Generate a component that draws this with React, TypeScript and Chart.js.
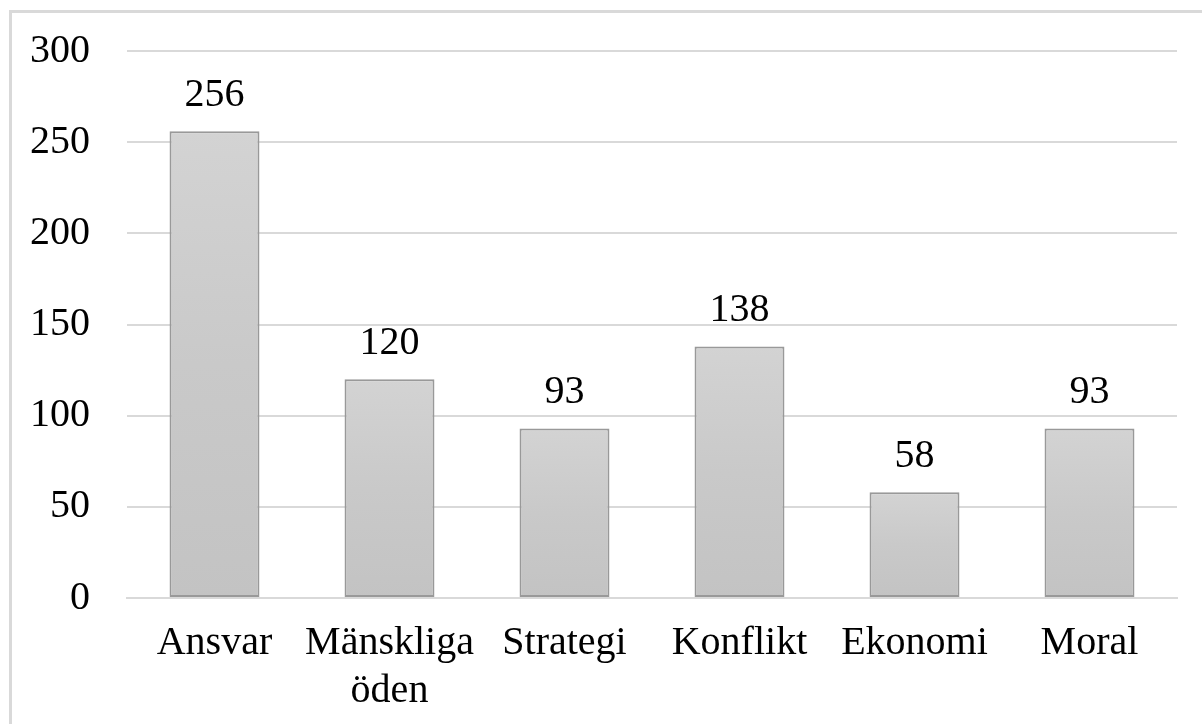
import React, { useEffect, useRef } from "react";
import { Chart, registerables } from "chart.js";

Chart.register(...registerables);

const categories: (string | string[])[] = ["Ansvar", ["Mänskliga", "öden"], "Strategi", "Konflikt", "Ekonomi", "Moral"];
const values: number[] = [256, 120, 93, 138, 58, 93];
const yTicks: number[] = [0, 50, 100, 150, 200, 250, 300];

const FONT = "'Liberation Serif', 'Times New Roman', serif";

const valueLabels = {
  id: "valueLabels",
  afterDatasetsDraw(chart: any) {
    const { ctx } = chart;
    const meta = chart.getDatasetMeta(0);
    ctx.save();
    ctx.font = `40px ${FONT}`;
    ctx.fillStyle = "#000";
    ctx.textAlign = "center";
    ctx.textBaseline = "alphabetic";
    meta.data.forEach((bar: any, i: number) => {
      ctx.fillText(String(values[i]), bar.x, bar.y - 25);
    });
    ctx.restore();
  },
};

export default function App() {
  const ref = useRef<HTMLCanvasElement>(null);
  useEffect(() => {
    const chart = new Chart(ref.current!, {
      type: "bar",
      data: {
        labels: categories,
        datasets: [
          {
            data: values,
            backgroundColor: (c: any) => {
              const chart = c.chart;
              const ys = chart.scales?.y;
              if (!ys || !chart.chartArea || c.raw === undefined) return "#c8c8c8";
              const top = ys.getPixelForValue(c.raw);
              const bottom = ys.getPixelForValue(0);
              const g = chart.ctx.createLinearGradient(0, top, 0, bottom);
              g.addColorStop(0, "#d3d3d3");
              g.addColorStop(0.5, "#c9c9c9");
              g.addColorStop(1, "#c3c3c3");
              return g;
            },
            borderColor: "#999999",
            borderWidth: 2,
            borderSkipped: false,
            barPercentage: 0.514,
            categoryPercentage: 1,
          },
        ],
      },
      options: {
        animation: false,
        responsive: false,
        maintainAspectRatio: false,
        layout: { padding: { top: 51, right: 25, left: 0, bottom: 0 } },
        plugins: { legend: { display: false }, tooltip: { enabled: false } },
        scales: {
          x: {
            grid: { display: false, drawTicks: false },
            border: { display: true, color: "#d9d9d9", width: 2 },
            ticks: {
              color: "#000",
              font: { family: FONT, size: 40, lineHeight: 1.2 },
              padding: 21,
              maxRotation: 0,
              autoSkip: false,
            },
            afterFit: (s: any) => {
              s.height = 126;
              s.paddingLeft = 0;
              s.paddingRight = 0;
            },
          },
          y: {
            min: 0,
            max: 300,
            afterBuildTicks: (s: any) => {
              s.ticks = yTicks.map((v) => ({ value: v }));
            },
            grid: { color: "#d9d9d9", lineWidth: 2, drawTicks: false },
            border: { display: false },
            ticks: {
              color: "#000",
              font: { family: FONT, size: 40 },
              padding: 37,
            },
            afterFit: (s: any) => {
              s.width = 127;
              s.paddingTop = 0;
              s.paddingBottom = 0;
            },
          },
        },
      },
      plugins: [valueLabels],
    });
    return () => chart.destroy();
  }, []);

  return (
    <div style={{ position: "absolute", left: 0, top: 0, width: 1202, height: 724, background: "#fff", overflow: "hidden" }}>
      <div
        style={{
          position: "absolute",
          left: 9,
          top: 10,
          width: 1220,
          height: 740,
          border: "3px solid #d9d9d9",
          boxSizing: "border-box",
        }}
      />
      <canvas ref={ref} width={1202} height={724} style={{ position: "absolute", left: 0, top: 0 }} />
    </div>
  );
}
